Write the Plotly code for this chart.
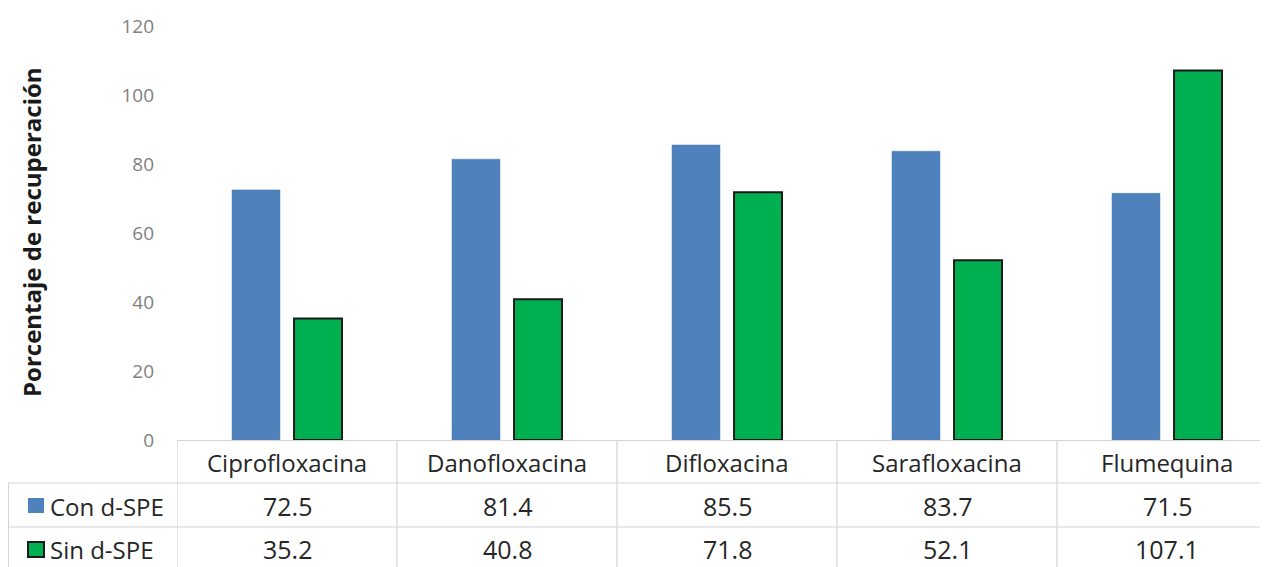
import plotly.graph_objects as go

categories = ["Ciprofloxacina", "Danofloxacina", "Difloxacina", "Sarafloxacina", "Flumequina"]
series_names = ["Con d-SPE", "Sin d-SPE"]
con_dspe = [72.5, 81.4, 85.5, 83.7, 71.5]
sin_dspe = [35.2, 40.8, 71.8, 52.1, 107.1]
y_ticks = [0, 20, 40, 60, 80, 100, 120]
y_title = "Porcentaje de recuperación"

# page has an 8px body margin: figure sized to fit in the 1268x567 window
OFF = 8
W, H = 1260, 559
L, R, T, B = 169, 0, 18, 127
PW, PH = W - L - R, H - T - B
CAT_PX = 220.0

BLUE = "#4F81BD"
GREEN = "#00B050"
GRID = "#d4d4d4"
TXT = "#262626"
FONT = "Open Sans"

def px_x(px):
    # reference window pixel -> paper x
    return (px - OFF - L) / PW

def px_y(py):
    # reference window pixel -> paper y
    return (H - B - (py - OFF)) / PH

fig = go.Figure()
x_idx = list(range(len(categories)))
fig.add_trace(go.Bar(x=x_idx, y=con_dspe, name=series_names[0],
                     marker=dict(color=BLUE, line=dict(color="#4a78b0", width=0.5))))
fig.add_trace(go.Bar(x=x_idx, y=sin_dspe, name=series_names[1],
                     marker=dict(color=GREEN, line=dict(color="#1a1a1a", width=2))))

x_end = -0.5 + PW / CAT_PX

shapes = []
# horizontal table lines
for py in (483, 527):
    shapes.append(dict(type="line", xref="paper", yref="paper",
                       x0=px_x(OFF), x1=1, y0=px_y(py), y1=px_y(py),
                       line=dict(color=GRID, width=1.2)))
# vertical table lines at category boundaries
for k in range(len(categories)):
    shapes.append(dict(type="line", xref="x", yref="paper",
                       x0=k - 0.5, x1=k - 0.5, y0=0, y1=px_y(H + OFF),
                       line=dict(color=GRID, width=1.2)))
# left border of legend column
shapes.append(dict(type="line", xref="paper", yref="paper",
                   x0=px_x(OFF + 0.5), x1=px_x(OFF + 0.5), y0=px_y(483), y1=px_y(H + OFF),
                   line=dict(color=GRID, width=1)))
# legend keys
shapes.append(dict(type="rect", xref="paper", yref="paper",
                   x0=px_x(28), x1=px_x(44), y0=px_y(498), y1=px_y(513),
                   fillcolor=BLUE, line=dict(width=0)))
shapes.append(dict(type="rect", xref="paper", yref="paper",
                   x0=px_x(28), x1=px_x(44), y0=px_y(542), y1=px_y(557),
                   fillcolor=GREEN, line=dict(color="#1a1a1a", width=2)))

annotations = []
for i, c in enumerate(categories):
    annotations.append(dict(x=i, y=px_y(462), xref="x", yref="paper", text=c,
                            showarrow=False, xanchor="center", yanchor="middle",
                            font=dict(family=FONT, size=24, color=TXT)))
    annotations.append(dict(x=i, y=px_y(506), xref="x", yref="paper", text=f"{con_dspe[i]:.1f}",
                            showarrow=False, xanchor="center", yanchor="middle",
                            font=dict(family=FONT, size=25, color=TXT)))
    annotations.append(dict(x=i, y=px_y(549), xref="x", yref="paper", text=f"{sin_dspe[i]:.1f}",
                            showarrow=False, xanchor="center", yanchor="middle",
                            font=dict(family=FONT, size=25, color=TXT)))
for name, py in zip(series_names, (506, 549)):
    annotations.append(dict(x=px_x(48), y=px_y(py), xref="paper", yref="paper", text=name,
                            showarrow=False, xanchor="left", yanchor="middle",
                            font=dict(family=FONT, size=24, color=TXT)))
annotations.append(dict(x=px_x(31), y=px_y(232), xref="paper", yref="paper", text=f"<b>{y_title}</b>",
                        textangle=-90, showarrow=False, xanchor="center", yanchor="middle",
                        font=dict(family=FONT, size=24, color="#1a1a1a")))

fig.update_layout(
    width=W, height=H,
    margin=dict(l=L, r=R, t=T, b=B, pad=0),
    paper_bgcolor="white", plot_bgcolor="white",
    barmode="group", bargap=0.436, bargroupgap=0.227,
    showlegend=False,
    shapes=shapes, annotations=annotations,
    xaxis=dict(range=[-0.5, x_end], showticklabels=False, showgrid=False, zeroline=False,
               showline=True, linecolor=GRID, linewidth=1.2, ticks=""),
    yaxis=dict(range=[0, 120], tickvals=y_ticks, showgrid=False, zeroline=False,
               showline=False, ticks="", ticklabelstandoff=22,
               tickfont=dict(family=FONT, size=19, color="#7f7f7f")),
)

fig.write_html("out.html")
